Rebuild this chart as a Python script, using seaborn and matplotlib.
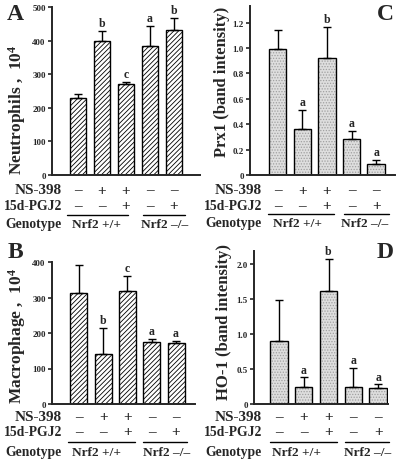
import matplotlib
matplotlib.use('Agg')
import matplotlib.pyplot as plt
import matplotlib.transforms as mtransforms
import matplotlib.colors as mcolors
import seaborn as sns
import numpy as np

# Dados
grupos = ['1', '2', '3', '4', '5']
ns398 = ['–', '+', '+', '–', '–']
pgj2 = ['–', '–', '+', '–', '+']
genotipos = ['Nrf2 +/+', 'Nrf2 –/–']

neutro_media = [230, 398, 270, 385, 432]
neutro_erro = [10, 30, 8, 58, 35]
neutro_letras = ['', 'b', 'c', 'a', 'b']

macro_media = [312, 140, 318, 175, 173]
macro_erro = [80, 75, 43, 9, 5]
macro_letras = ['', 'b', 'c', 'a', 'a']

prx1_media = [0.99, 0.365, 0.92, 0.28, 0.085]
prx1_erro = [0.15, 0.15, 0.245, 0.065, 0.03]
prx1_letras = ['', 'a', 'b', 'a', 'a']

ho1_media = [0.90, 0.25, 1.62, 0.24, 0.23]
ho1_erro = [0.59, 0.13, 0.45, 0.27, 0.05]
ho1_letras = ['', 'a', 'b', 'a', 'a']

sns.set_style('ticks')
plt.rcParams['font.family'] = ['Liberation Serif', 'DejaVu Serif']
plt.rcParams['font.weight'] = 'bold'
plt.rcParams['mathtext.fontset'] = 'custom'
plt.rcParams['mathtext.rm'] = 'Liberation Serif:bold'
plt.rcParams['mathtext.bf'] = 'Liberation Serif:bold'
plt.rcParams['hatch.linewidth'] = 0.6

W, H = 401, 464
fig = plt.figure(figsize=(W / 100, H / 100), dpi=100)


def eixo(esq, dir, base, topo):
    # cria eixo a partir de coordenadas em pixels
    return fig.add_axes([esq / W, 1 - base / H, (dir - esq) / W, (base - topo) / H])


def painel(ax, medias, erros, letras, ylim, yticks, ylabels, xlim, estilo):
    if estilo == 'listras':
        sns.barplot(x=grupos, y=medias, ax=ax, color='white', edgecolor='black',
                    linewidth=1.0, width=0.7, saturation=1)
    else:
        sns.barplot(x=grupos, y=medias, ax=ax, color='#dedede', edgecolor='black',
                    linewidth=1.0, width=0.7, saturation=1)
    for p in ax.patches:
        if estilo == 'listras':
            p.set_hatch('///////')
        else:
            p.set_hatch('......')
            p._hatch_color = mcolors.to_rgba('#a0a0a0')
    x = np.arange(len(medias))
    ax.errorbar(x, medias, yerr=[np.zeros(len(erros)), erros], fmt='none',
                ecolor='black', elinewidth=1.0, capsize=3, capthick=1.0)
    for xi, m, e, l in zip(x, medias, erros, letras):
        if l:
            ax.text(xi, m + e + ylim[1] * 0.012, l, ha='center', va='bottom',
                    fontsize=8.5, fontweight='bold')
    ax.set_xlim(*xlim)
    ax.set_ylim(*ylim)
    ax.set_yticks(yticks)
    ax.set_yticklabels(ylabels, fontsize=6.5, fontweight='bold')
    ax.set_xticks([])
    ax.set_xlabel('')
    ax.set_ylabel('')
    ax.tick_params(axis='y', length=3, width=1.2, pad=1.5)
    sns.despine(ax=ax)
    for s in ['left', 'bottom']:
        ax.spines[s].set_linewidth(1.4)


def tabela(ax, linhas_y, rotulo_x, traco1, traco2, geno_x):
    trans = mtransforms.blended_transform_factory(ax.transData, fig.transFigure)
    y_ns, y_pg, y_linha, y_gen = linhas_y
    fig.text(rotulo_x / W, 1 - y_ns / H, 'NS-398', ha='right', va='center', fontsize=11)
    fig.text(rotulo_x / W, 1 - y_pg / H, '15d-PGJ2', ha='right', va='center', fontsize=9.8)
    fig.text(rotulo_x / W, 1 - y_gen / H, 'Genotype', ha='right', va='center', fontsize=9.8)
    for i in range(len(grupos)):
        ax.text(i, 1 - y_ns / H, ns398[i], transform=trans, ha='center', va='center', fontsize=11)
        ax.text(i, 1 - y_pg / H, pgj2[i], transform=trans, ha='center', va='center', fontsize=11)
    for (a, b) in [traco1, traco2]:
        fig.add_artist(plt.Line2D([a / W, b / W], [1 - y_linha / H] * 2,
                                  color='black', linewidth=1.0))
    for gx, g in zip(geno_x, genotipos):
        fig.text(gx / W, 1 - y_gen / H, g, ha='left', va='center', fontsize=9.6)


# Painel A - neutrófilos
axA = eixo(52, 200, 176, 8)
painel(axA, neutro_media, neutro_erro, neutro_letras, (0, 500),
       [0, 100, 200, 300, 400, 500], ['0', '100', '200', '300', '400', '500'],
       (-1.08, 5.08), 'listras')
tabela(axA, (191, 207, 216, 225), 62, (67, 128), (143, 185), (72, 141))
fig.text(17 / W, 1 - 110 / H, r'Neutrophils ,  $\mathbf{10^4}$', rotation=90,
         ha='center', va='center', fontsize=12.5)
fig.text(15 / W, 1 - 15 / H, 'A', ha='center', va='center', fontsize=17, fontweight='bold')

# Painel C - Prx1
axC = eixo(250, 395, 176, 7)
painel(axC, prx1_media, prx1_erro, prx1_letras, (0, 1.33),
       [0, 0.2, 0.4, 0.6, 0.8, 1.0, 1.2], ['0', '0.2', '0.4', '0.6', '0.8', '1.0', '1.2'],
       (-1.13, 4.77), 'pontos')
tabela(axC, (191, 207, 215, 224), 262, (268, 334), (344, 389), (273, 341))
fig.text(222 / W, 1 - 82 / H, 'Prx1 (band intensity)', rotation=90,
         ha='center', va='center', fontsize=12)
fig.text(385 / W, 1 - 15 / H, 'C', ha='center', va='center', fontsize=17, fontweight='bold')

# Painel B - macrófagos
axB = eixo(52, 195, 405, 263)
painel(axB, macro_media, macro_erro, macro_letras, (0, 400),
       [0, 100, 200, 300, 400], ['0', '100', '200', '300', '400'],
       (-1.1, 4.78), 'listras')
tabela(axB, (418, 433, 443, 453), 62, (68, 135), (143, 187), (72, 143))
fig.text(17 / W, 1 - 336 / H, r'Macrophage ,  $\mathbf{10^4}$', rotation=90,
         ha='center', va='center', fontsize=12.5)
fig.text(15 / W, 1 - 252 / H, 'B', ha='center', va='center', fontsize=17, fontweight='bold')

# Painel D - HO-1
axD = eixo(254, 388, 405, 252)
painel(axD, ho1_media, ho1_erro, ho1_letras, (0, 2.186),
       [0, 0.5, 1.0, 1.5, 2.0], ['0', '0.5', '1.0', '1.5', '2.0'],
       (-1.01, 4.4), 'pontos')
tabela(axD, (418, 433, 443, 453), 262, (270, 337), (345, 389), (272, 344))
fig.text(224 / W, 1 - 322 / H, 'HO-1 (band intensity)', rotation=90,
         ha='center', va='center', fontsize=12)
fig.text(385 / W, 1 - 252 / H, 'D', ha='center', va='center', fontsize=17, fontweight='bold')

plt.savefig('out.png', dpi=100)
plt.close()
